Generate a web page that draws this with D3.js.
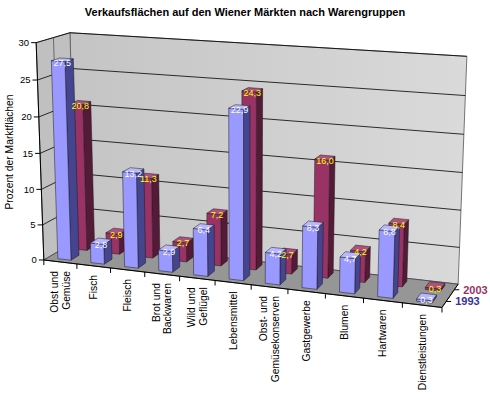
<!DOCTYPE html>
<html>
<head>
<meta charset="utf-8">
<script src="https://cdn.jsdelivr.net/npm/d3@7"></script>
<style>
  body { margin: 0; background: #fff; }
  svg { display: block; font-family: "Liberation Sans", Arial, sans-serif; }
</style>
</head>
<body>
<div id="chart"></div>
<script>
// Werte
const categories = ["Obst und/Gemüse", "Fisch", "Fleisch", "Brot und/Backwaren", "Wild und/Geflügel",
  "Lebensmittel", "Obst- und/Gemüsekonserven", "Gastgewerbe", "Blumen", "Hartwaren", "Dienstleistungen"];
const series = ["1993", "2003"];
const values1993 = [27.5, 2.8, 13.2, 2.9, 6.4, 22.9, 4.2, 8.3, 4.7, 8.8, 0.3];
const values2003 = [20.8, 2.9, 11.3, 2.7, 7.2, 24.3, 2.7, 16.0, 4.2, 8.4, 0.3];
const yTicks = [0, 5, 10, 15, 20, 25, 30];

const width = 490, height = 400;
const colors = {
  "1993": { front: "#9999ff", side: "#44448f", top: "#b8b8ff", label: "#ffffff", axis: "#333399" },
  "2003": { front: "#993366", side: "#541a37", top: "#b0507f", label: "#ffff00", axis: "#993366" }
};

// Ecken des Diagrammkastens (Welt 0..1) -> Bildschirm, daraus wird die Perspektive geschaetzt
const anchors = [
  [[0, 0, 0], [44.5, 260]],
  [[0, 1, 0], [36, 43.5]],
  [[0, 0.5, 0], [40, 152]],
  [[0, 1, 1], [70, 32]],
  [[1, 1, 1], [467, 57]],
  [[1, 0, 0], [443, 308]],
  [[1, 0, 1], [458, 283]],
  [[0, 0, 1], [76, 242]],
  [[3 / 11, 0, 0], [145, 272]],
  [[6 / 11, 0, 0], [250, 285]],
  [[9 / 11, 0, 0], [363, 298]]
];

function solveLinear(M) {
  const n = M.length;
  for (let c = 0; c < n; c++) {
    let p = c;
    for (let r = c + 1; r < n; r++) if (Math.abs(M[r][c]) > Math.abs(M[p][c])) p = r;
    [M[c], M[p]] = [M[p], M[c]];
    for (let r = 0; r < n; r++) {
      if (r === c) continue;
      const f = M[r][c] / M[c][c];
      for (let k = c; k <= n; k++) M[r][k] -= f * M[c][k];
    }
  }
  return M.map((row, i) => row[n] / row[i]);
}

// DLT: u = (m0X+m1Y+m2Z+m3)/(m8X+m9Y+m10Z+1), v analog
function fitCamera(pts) {
  const rows = [], rhs = [];
  pts.forEach(([[X, Y, Z], [u, v]]) => {
    u = (u - 250) / 250; v = (v - 200) / 250;
    rows.push([X, Y, Z, 1, 0, 0, 0, 0, -u * X, -u * Y, -u * Z]); rhs.push(u);
    rows.push([0, 0, 0, 0, X, Y, Z, 1, -v * X, -v * Y, -v * Z]); rhs.push(v);
  });
  const n = 11;
  const M = d3.range(n).map(() => d3.range(n + 1).map(() => 0));
  rows.forEach((row, k) => {
    for (let i = 0; i < n; i++) {
      for (let j = 0; j < n; j++) M[i][j] += row[i] * row[j];
      M[i][n] += row[i] * rhs[k];
    }
  });
  return solveLinear(M);
}

const m = fitCamera(anchors);

function project([X, Y, Z]) {
  const w = m[8] * X + m[9] * Y + m[10] * Z + 1;
  return [
    (m[0] * X + m[1] * Y + m[2] * Z + m[3]) / w * 250 + 250,
    (m[4] * X + m[5] * Y + m[6] * Z + m[7]) / w * 250 + 200
  ];
}

// Kamerazentrum (fuer sichtbare Flaechen und Zeichenreihenfolge)
const cam = solveLinear([
  [m[0], m[1], m[2], -m[3]],
  [m[4], m[5], m[6], -m[7]],
  [m[8], m[9], m[10], -1]
]);

// Skalen
const xScale = d3.scaleBand().domain(categories).range([0, 1]).paddingInner(0.6).paddingOuter(0.3);
const zScale = d3.scaleBand().domain(series).range([0, 1]).paddingInner(0.5).paddingOuter(0.25);
const yScale = d3.scaleLinear().domain([0, 30]).range([0, 1]);

const svg = d3.select("#chart").append("svg")
  .attr("width", width).attr("height", height);

const defs = svg.append("defs");
const grad = defs.append("linearGradient").attr("id", "wallGrad")
  .attr("x1", "0%").attr("x2", "100%").attr("y1", "0%").attr("y2", "0%");
grad.append("stop").attr("offset", "0%").attr("stop-color", "#c4c4c4");
grad.append("stop").attr("offset", "100%").attr("stop-color", "#dadada");

const line = pts => "M" + pts.map(p => project(p).join(",")).join("L");
const poly = pts => line(pts) + "Z";

// Waende und Boden
const walls = svg.append("g");
walls.append("path")
  .attr("d", poly([[0, 0, 1], [1, 0, 1], [1, 1, 1], [0, 1, 1]]))
  .attr("fill", "url(#wallGrad)").attr("stroke", "#555").attr("stroke-width", 0.8);
walls.append("path")
  .attr("d", poly([[0, 0, 0], [0, 0, 1], [0, 1, 1], [0, 1, 0]]))
  .attr("fill", "#c0c0c0").attr("stroke", "#555").attr("stroke-width", 0.8);
walls.append("path")
  .attr("d", poly([[0, 0, 0], [1, 0, 0], [1, 0, 1], [0, 0, 1]]))
  .attr("fill", "#969696").attr("stroke", "#444").attr("stroke-width", 0.8);

// Gitterlinien
yTicks.filter(t => t > 0).forEach(t => {
  const v = yScale(t);
  walls.append("path").attr("d", line([[0, v, 0], [0, v, 1], [1, v, 1]]))
    .attr("fill", "none").attr("stroke", "#000").attr("stroke-width", 0.8);
});
walls.append("path").attr("d", line([[0, 0, 0.5], [0, 1, 0.5]]))
  .attr("fill", "none").attr("stroke", "#444").attr("stroke-width", 0.7);

// Achsen
const axes = svg.append("g").attr("stroke", "#000").attr("stroke-width", 1).attr("fill", "none");
axes.append("path").attr("d", line([[0, 0, 0], [0, 1, 0]]));
axes.append("path").attr("d", line([[0, 0, 0], [1, 0, 0]]));
axes.append("path").attr("d", line([[1, 0, 0], [1, 0, 1]]));

yTicks.forEach(t => {
  const [px, py] = project([0, yScale(t), 0]);
  axes.append("line").attr("x1", px - 5).attr("x2", px).attr("y1", py).attr("y2", py);
  svg.append("text").attr("x", px - 7).attr("y", py).attr("dy", "0.35em")
    .attr("text-anchor", "end").attr("font-size", 9.5).attr("fill", "#000").text(t);
});

// Kategorie-Ticks und Beschriftungen
d3.range(categories.length + 1).forEach(i => {
  const xv = i === categories.length ? 1 : xScale(categories[i]) - xScale.step() * xScale.paddingInner() / 2;
  const [px, py] = project([Math.max(0, xv), 0, 0]);
  axes.append("line").attr("x1", px).attr("x2", px).attr("y1", py).attr("y2", py + 5);
});
categories.forEach(c => {
  const [px, py] = project([xScale(c) + xScale.bandwidth() / 2, 0, 0]);
  const parts = c.split("/");
  const t = svg.append("text")
    .attr("transform", `translate(${px},${py + 9}) rotate(-90)`)
    .attr("text-anchor", "end").attr("font-size", 10.3).attr("fill", "#000");
  parts.forEach((s, k) => {
    const off = parts.length === 1 ? 0.35 : (k === 0 ? -0.2 : 0.9);
    t.append("tspan").attr("x", 0).attr("y", off + "em").text(s);
  });
});

// Reihenachse
series.forEach(s => {
  const [px, py] = project([1, 0, zScale(s) + zScale.bandwidth() / 2]);
  axes.append("line").attr("x1", px).attr("x2", px + 5).attr("y1", py).attr("y2", py);
  svg.append("text").attr("x", px + 9).attr("y", py).attr("dy", "0.35em")
    .attr("font-size", 11).attr("font-weight", "bold").attr("fill", colors[s].axis).text(s);
});

// Balken
const bars = [];
series.forEach(s => {
  const vals = s === "1993" ? values1993 : values2003;
  categories.forEach((c, i) => bars.push({ series: s, cat: c, value: vals[i] }));
});
bars.forEach(d => {
  d.x0 = xScale(d.cat); d.x1 = d.x0 + xScale.bandwidth();
  d.z0 = zScale(d.series); d.z1 = d.z0 + zScale.bandwidth();
  d.y1 = yScale(d.value);
  d.dz = Math.abs(cam[2] - (d.z0 + d.z1) / 2);
  d.dx = Math.abs(cam[0] - (d.x0 + d.x1) / 2);
});
bars.sort((a, b) => (b.dz - a.dz) || (b.dx - a.dx));

const barG = svg.append("g").attr("stroke", "#1a1a1a").attr("stroke-width", 0.5).attr("stroke-linejoin", "round");
bars.forEach(d => {
  const { x0, x1, z0, z1, y1 } = d;
  const col = colors[d.series];
  const faces = [];
  if (cam[0] < x0) faces.push([[[x0, 0, z1], [x0, 0, z0], [x0, y1, z0], [x0, y1, z1]], col.side]);
  if (cam[0] > x1) faces.push([[[x1, 0, z0], [x1, 0, z1], [x1, y1, z1], [x1, y1, z0]], col.side]);
  if (cam[2] < z0) faces.push([[[x0, 0, z0], [x1, 0, z0], [x1, y1, z0], [x0, y1, z0]], col.front]);
  if (cam[1] > y1) faces.push([[[x0, y1, z0], [x1, y1, z0], [x1, y1, z1], [x0, y1, z1]], col.top]);
  faces.forEach(([pts, fill]) => barG.append("path").attr("d", poly(pts)).attr("fill", fill));
});

// Datenbeschriftungen
const fmt = v => d3.format(".1f")(v).replace(".", ",");
bars.forEach(d => {
  const [px, py] = project([(d.x0 + d.x1) / 2, d.y1, (d.z0 + d.z1) / 2]);
  svg.append("text").attr("x", px).attr("y", py + 6.5)
    .attr("text-anchor", "middle").attr("font-size", 9)
    .attr("fill", colors[d.series].label).text(fmt(d.value));
});

// Titel
svg.append("text").attr("x", 245).attr("y", 16).attr("text-anchor", "middle")
  .attr("font-size", 11).attr("font-weight", "bold").attr("fill", "#000")
  .text("Verkaufsflächen auf den Wiener Märkten nach Warengruppen");

svg.append("text").attr("transform", "translate(13,152) rotate(-90)")
  .attr("text-anchor", "middle").attr("font-size", 10.3).attr("fill", "#000")
  .text("Prozent der Marktflächen");
</script>
</body>
</html>
